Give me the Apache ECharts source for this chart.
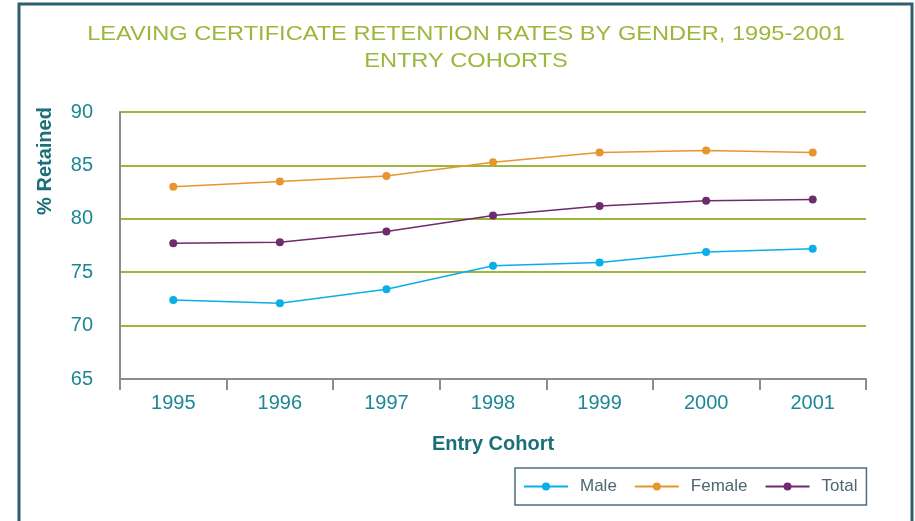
<!DOCTYPE html>
<html>
<head>
<meta charset="utf-8">
<script src="https://cdn.jsdelivr.net/npm/echarts@6/dist/echarts.min.js"></script>
<style>
  html, body { margin: 0; padding: 0; background: #fff; }
  #main { width: 915px; height: 521px; }
</style>
</head>
<body>
<div id="main"></div>
<script>
// data
var years = ['1995', '1996', '1997', '1998', '1999', '2000', '2001'];
var male = [72.4, 72.1, 73.4, 75.6, 75.9, 76.9, 77.2];
var female = [83.0, 83.5, 84.0, 85.3, 86.2, 86.4, 86.2];
var total = [77.7, 77.8, 78.8, 80.3, 81.2, 81.7, 81.8];
var titleText = 'LEAVING CERTIFICATE RETENTION RATES BY GENDER, 1995-2001\nENTRY COHORTS';

var myChart = echarts.init(document.getElementById('main'));

var teal = '#1d8792';
var font = 'Liberation Sans, Arial, sans-serif';

function lineSeries(name, data, color) {
    return {
        name: name,
        type: 'line',
        data: data,
        symbol: 'circle',
        symbolSize: 8,
        lineStyle: { color: color, width: 1.5 },
        itemStyle: { color: color },
        emphasis: { disabled: true }
    };
}

var option = {
    animation: false,
    legend: {
        data: ['Male', 'Female', 'Total'],
        left: 515,
        top: 468,
        padding: [10, 9, 10, 8],
        itemWidth: 44,
        itemHeight: 10,
        itemGap: 17,
        borderColor: '#4f6f7c',
        borderWidth: 1.5,
        textStyle: { color: '#4f6670', fontSize: 17, fontFamily: font, padding: [0, 0, 0, 7] }
    },
    grid: { left: 120, right: 49, top: 112, bottom: 142 },
    xAxis: {
        type: 'category',
        data: years,
        boundaryGap: true,
        name: 'Entry Cohort',
        nameLocation: 'middle',
        nameGap: 55,
        nameTextStyle: { color: '#1b6f78', fontSize: 20, fontWeight: 'bold', fontFamily: font },
        axisLine: { lineStyle: { color: '#8c8c8c', width: 2 } },
        axisTick: { show: true, length: 11, lineStyle: { color: '#8c8c8c', width: 2 } },
        axisLabel: { color: teal, fontSize: 20, fontFamily: font, margin: 14 }
    },
    yAxis: {
        type: 'value',
        min: 65,
        max: 90,
        interval: 5,
        axisLine: { show: true, lineStyle: { color: '#8c8c8c', width: 2 } },
        axisTick: { show: false },
        axisLabel: { color: teal, fontSize: 20, fontFamily: font, margin: 27 },
        splitLine: { lineStyle: { color: '#9bb83c', width: 2 } }
    },
    graphic: [
        {
            type: 'rect',
            shape: { x: 19, y: 4, width: 893, height: 540 },
            style: { fill: 'none', stroke: '#2e5f6d', lineWidth: 3 },
            silent: true
        },
        {
            // title, stretched a little to match the wide lettering
            type: 'text',
            x: 466,
            y: 21,
            scaleX: 1.124,
            style: {
                text: titleText,
                fill: '#9bb83c',
                font: '21px Liberation Sans, Arial, sans-serif',
                lineHeight: 27,
                textAlign: 'center',
                textVerticalAlign: 'top'
            }
        },
        {
            type: 'text',
            x: 45,
            y: 161,
            rotation: Math.PI / 2,
            style: {
                text: '% Retained',
                fill: '#1b6f78',
                font: 'bold 20px Liberation Sans, Arial, sans-serif',
                textAlign: 'center',
                textVerticalAlign: 'middle'
            }
        }
    ],
    series: [
        lineSeries('Male', male, '#0aaeea'),
        lineSeries('Female', female, '#e8952c'),
        lineSeries('Total', total, '#6e2b6f')
    ]
};

myChart.setOption(option);
</script>
</body>
</html>
